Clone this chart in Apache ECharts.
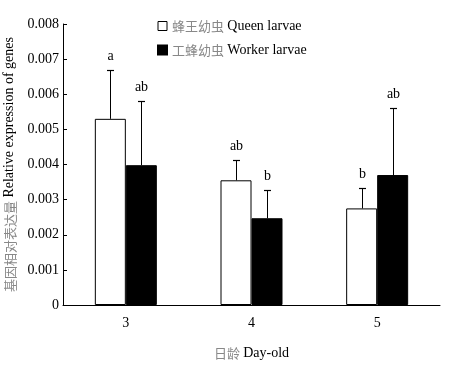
<!DOCTYPE html>
<html>
<head>
<meta charset="utf-8">
<script src="https://cdn.jsdelivr.net/npm/echarts@6/dist/echarts.min.js"></script>
<style>html,body{margin:0;padding:0;background:#fff;}#c{width:470px;height:368px;}</style>
</head>
<body>
<div id="c"></div>
<script>
var categories = ['3', '4', '5'];
var queenValues = [0.0053, 0.00355, 0.00275];
var queenErrors = [0.0014, 0.00057, 0.00059];
var queenLetters = ['a', 'ab', 'b'];
var workerValues = [0.00398, 0.00247, 0.0037];
var workerErrors = [0.00184, 0.00079, 0.00191];
var workerLetters = ['ab', 'b', 'ab'];
var yTicks = [0, 0.001, 0.002, 0.003, 0.004, 0.005, 0.006, 0.007, 0.008];

var serif = '"Liberation Serif", "Times New Roman", serif';
var cjk = '"Noto Sans CJK SC", sans-serif';
var BAR_W = 31;

var errData = [];
for (var i = 0; i < categories.length; i++) {
  errData.push([i, queenValues[i], queenValues[i] + queenErrors[i], -1, queenLetters[i]]);
  errData.push([i, workerValues[i], workerValues[i] + workerErrors[i], 1, workerLetters[i]]);
}

var chart = echarts.init(document.getElementById('c'), null, {renderer: 'canvas'});
chart.setOption({
  animation: false,
  backgroundColor: '#fff',
  grid: {left: 63, right: 30, top: 24, bottom: 63, containLabel: false, outerBoundsMode: 'none'},
  legend: {
    orient: 'vertical',
    left: 152,
    top: 14,
    itemWidth: 9,
    itemHeight: 9,
    itemGap: 10,
    data: [
      {name: 'queen', icon: 'rect', itemStyle: {color: '#fff', borderColor: '#000', borderWidth: 1}},
      {name: 'worker', icon: 'rect', itemStyle: {color: '#000'}}
    ],
    formatter: function (n) {
      return n === 'queen' ? '{c|蜂王幼虫} {e|Queen larvae}' : '{c|工蜂幼虫} {e|Worker larvae}';
    },
    textStyle: {
      rich: {
        c: {fontFamily: cjk, fontSize: 13, color: '#888'},
        e: {fontFamily: serif, fontSize: 14, color: '#000'}
      }
    }
  },
  xAxis: {
    type: 'category',
    data: categories,
    name: '{c|日龄} {e|Day-old}',
    nameLocation: 'middle',
    nameGap: 41,
    nameTextStyle: {
      rich: {
        c: {fontFamily: cjk, fontSize: 13, color: '#888'},
        e: {fontFamily: serif, fontSize: 14, color: '#000'}
      }
    },
    axisLine: {lineStyle: {color: '#000', width: 1}},
    axisTick: {inside: true, length: 5, lineStyle: {color: '#000'}},
    axisLabel: {fontFamily: serif, fontSize: 14, color: '#000', margin: 11}
  },
  yAxis: {
    type: 'value',
    min: 0,
    max: 0.008,
    interval: 0.001,
    name: '{c|基因相对表达量} {e|Relative expression of genes}',
    nameLocation: 'middle',
    nameRotate: 90,
    nameGap: 40,
    nameTextStyle: {
      rich: {
        c: {fontFamily: cjk, fontSize: 13, color: '#888'},
        e: {fontFamily: serif, fontSize: 14, color: '#000'}
      }
    },
    axisLine: {show: true, lineStyle: {color: '#000', width: 1}},
    axisTick: {show: true, inside: true, length: 4, lineStyle: {color: '#000'}},
    splitLine: {show: false},
    axisLabel: {
      fontFamily: serif, fontSize: 14, color: '#000', margin: 4,
      formatter: function (v) { return v === 0 ? '0' : v.toFixed(3); }
    }
  },
  series: [
    {
      name: 'queen', type: 'bar', data: queenValues, barWidth: BAR_W, barGap: '0%',
      itemStyle: {color: '#fff', borderColor: '#000', borderWidth: 1}, z: 2
    },
    {
      name: 'worker', type: 'bar', data: workerValues, barWidth: BAR_W, barGap: '0%',
      itemStyle: {color: '#000', borderColor: '#000', borderWidth: 1}, z: 2
    },
    {
      type: 'custom',
      data: errData,
      z: 5,
      silent: true,
      renderItem: function (params, api) {
        var cat = api.value(0);
        var base = api.coord([cat, api.value(1)]);
        var top = api.coord([cat, api.value(2)]);
        var x = Math.round(base[0] + api.value(3) * BAR_W / 2) + 0.5;
        var y0 = base[1];
        var y1 = Math.round(top[1]) + 0.5;
        return {
          type: 'group',
          children: [
            {type: 'line', shape: {x1: x, y1: y0, x2: x, y2: y1}, style: {stroke: '#000', lineWidth: 1}},
            {type: 'line', shape: {x1: x - 3.5, y1: y1, x2: x + 3.5, y2: y1}, style: {stroke: '#000', lineWidth: 1.2}},
            {type: 'text', style: {
              text: api.value(4), x: x, y: y1 - 7,
              textAlign: 'center', textVerticalAlign: 'bottom',
              fontFamily: serif, fontSize: 14, fill: '#000'
            }}
          ]
        };
      }
    }
  ]
});
</script>
</body>
</html>
